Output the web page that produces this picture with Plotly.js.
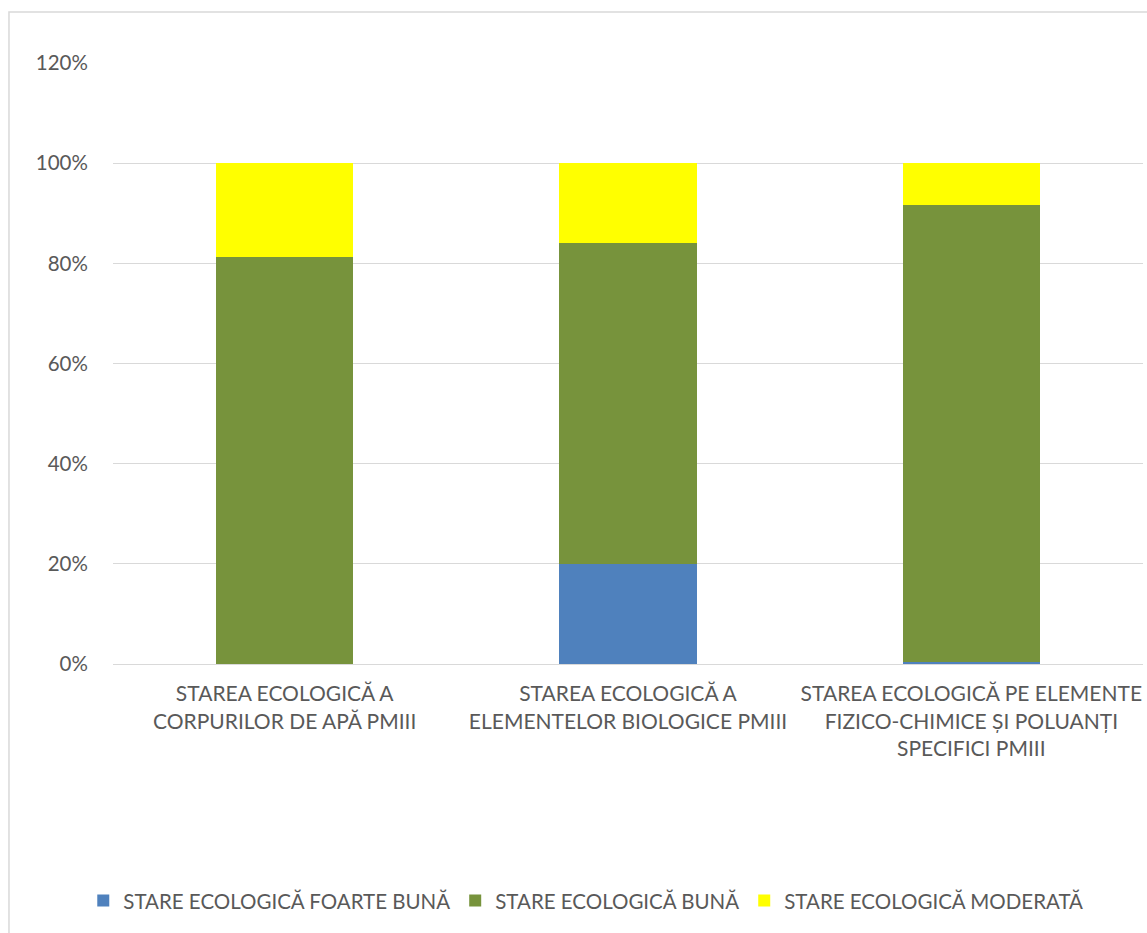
<!DOCTYPE html>
<html>
<head>
<meta charset="utf-8">
<script src="https://cdn.plot.ly/plotly-3.0.1.min.js"></script>
<style>html,body{margin:0;padding:0;background:#fff;overflow:hidden}#chart{width:1147px;height:933px}</style>
</head>
<body>
<div id="chart"></div>
<script>
const categories = [
  "STAREA ECOLOGICĂ A<br>CORPURILOR DE APĂ PMIII",
  "STAREA ECOLOGICĂ A<br>ELEMENTELOR BIOLOGICE PMIII",
  "STAREA ECOLOGICĂ PE ELEMENTE<br>FIZICO-CHIMICE ȘI POLUANȚI<br>SPECIFICI PMIII"
];
const seriesNames = ["STARE ECOLOGICĂ FOARTE BUNĂ", "STARE ECOLOGICĂ BUNĂ", "STARE ECOLOGICĂ MODERATĂ"];
const foarteBuna = [0, 0.200, 0.005];
const buna = [0.813, 0.641, 0.912];
const moderata = [0.187, 0.159, 0.083];
const colors = ["#4F81BD", "#77933C", "#FFFF00"];

const font = {family: "Lato, 'Open Sans', sans-serif", size: 20.5, color: "#595959"};
const xfont = {family: "Lato, 'Open Sans', sans-serif", size: 21, color: "#595959"};
const traces = [foarteBuna, buna, moderata].map((vals, i) => ({
  type: "bar",
  x: categories,
  y: vals,
  name: seriesNames[i],
  marker: {color: colors[i], line: {width: 0}},
  hoverinfo: "y+name"
}));

const layout = {
  width: 1147, height: 933,
  margin: {l: 113, r: 4, t: 63, b: 269},
  barmode: "stack",
  bargap: 0.6,
  paper_bgcolor: "#fff",
  plot_bgcolor: "#fff",
  font: font,
  showlegend: true,
  legend: {
    orientation: "h",
    x: 0.459, xanchor: "center",
    y: -0.394, yanchor: "middle",
    font: font,
    traceorder: "normal",
    itemclick: false
  },
  xaxis: {
    type: "category",
    tickfont: xfont,
    showgrid: false,
    showline: false,
    ticks: "outside", ticklen: 11, tickcolor: "rgba(0,0,0,0)",
    automargin: false
  },
  yaxis: {
    range: [0, 1.2],
    dtick: 0.2,
    tickformat: ".0%",
    tickfont: font,
    showgrid: true,
    gridcolor: "#D9D9D9",
    gridwidth: 1,
    zeroline: true,
    zerolinecolor: "#D9D9D9",
    zerolinewidth: 1,
    showline: false,
    ticks: "outside", ticklen: 20, tickcolor: "rgba(0,0,0,0)",
    automargin: false
  },
  shapes: [{
    type: "rect", xref: "paper", yref: "paper",
    x0: -0.101, x1: 1.2, y0: -0.6, y1: 1.085,
    line: {color: "#D9D9D9", width: 1.5},
    fillcolor: "rgba(0,0,0,0)",
    layer: "below"
  }]
};

Plotly.newPlot("chart", traces, layout, {displayModeBar: false, staticPlot: false});
</script>
</body>
</html>
